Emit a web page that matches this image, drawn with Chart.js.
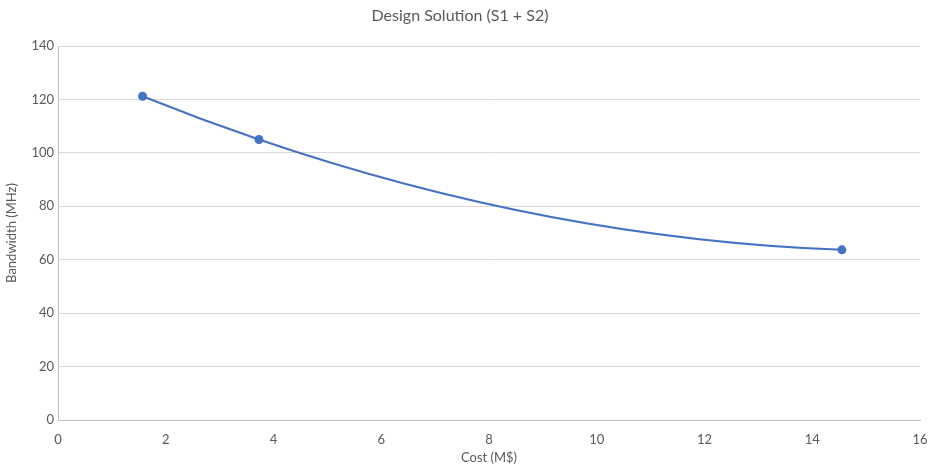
<!DOCTYPE html>
<html>
<head>
<meta charset="utf-8">
<script src="https://cdn.jsdelivr.net/npm/chart.js@4/dist/chart.umd.min.js"></script>
<style>
  html, body { margin: 0; padding: 0; background: #fff; }
  #wrap { width: 937px; height: 468px; }
</style>
</head>
<body>
<div id="wrap"><canvas id="c" width="937" height="468"></canvas></div>
<script>
// Design solution trade-off: cost vs bandwidth
const costMillions = [1.57, 3.73, 14.55];
const bandwidthMHz = [121.2, 105.0, 63.7];
const xTicks = [0, 2, 4, 6, 8, 10, 12, 14, 16];
const yTicks = [0, 20, 40, 60, 80, 100, 120, 140];

const points = costMillions.map((x, i) => ({ x: x, y: bandwidthMHz[i] }));
const fontFamily = "Lato, 'Open Sans', sans-serif";
const textColor = '#595959';

// Slope at point i of the quadratic through it and its nearest neighbours
function localSlope(xs, ys, i) {
  const n = xs.length;
  const s = Math.min(Math.max(i - 1, 0), n - 3);
  const [xa, xb, xc] = [xs[s], xs[s + 1], xs[s + 2]];
  const [ya, yb, yc] = [ys[s], ys[s + 1], ys[s + 2]];
  const x = xs[i];
  return ya * (2 * x - xb - xc) / ((xa - xb) * (xa - xc)) +
         yb * (2 * x - xa - xc) / ((xb - xa) * (xb - xc)) +
         yc * (2 * x - xa - xb) / ((xc - xa) * (xc - xb));
}

// Smooth the connecting line with Hermite control points built in data space
const smoothCurve = {
  id: 'smoothCurve',
  beforeDatasetDraw(chart, args) {
    const meta = args.meta;
    const line = meta.dataset;
    const els = meta.data;
    const n = costMillions.length;
    if (!line || els.length !== n || n < 3) return;
    line.updateControlPoints(chart.chartArea, meta.iScale.axis);
    const sx = meta.xScale, sy = meta.yScale;
    const m = costMillions.map((_, i) => localSlope(costMillions, bandwidthMHz, i));
    for (let i = 0; i < n - 1; i++) {
      const h = (costMillions[i + 1] - costMillions[i]) / 3;
      els[i].cp2x = sx.getPixelForValue(costMillions[i] + h);
      els[i].cp2y = sy.getPixelForValue(bandwidthMHz[i] + m[i] * h);
      els[i + 1].cp1x = sx.getPixelForValue(costMillions[i + 1] - h);
      els[i + 1].cp1y = sy.getPixelForValue(bandwidthMHz[i + 1] - m[i + 1] * h);
    }
  }
};

new Chart(document.getElementById('c'), {
  type: 'scatter',
  data: {
    datasets: [{
      data: points,
      showLine: true,
      borderColor: '#4472C4',
      backgroundColor: '#4472C4',
      borderWidth: 2,
      pointRadius: 3.5,
      pointHoverRadius: 3.5,
      tension: 0.4
    }]
  },
  plugins: [smoothCurve],
  options: {
    responsive: false,
    animation: false,
    layout: { padding: { left: 0, right: 17, top: 0, bottom: 0 } },
    plugins: {
      legend: { display: false },
      tooltip: { enabled: false },
      title: {
        display: true,
        text: 'Design Solution (S1 + S2)',
        color: textColor,
        font: { family: fontFamily, size: 16, weight: 'normal', lineHeight: 1.2 },
        padding: { top: 6, bottom: 20.8 }
      }
    },
    scales: {
      x: {
        type: 'linear',
        min: xTicks[0],
        max: xTicks[xTicks.length - 1],
        afterBuildTicks: s => { s.ticks = xTicks.map(v => ({ value: v })); },
        afterFit: s => { s.height = 48; },
        grid: { display: false },
        border: { display: true, color: '#bfbfbf', width: 1 },
        ticks: { color: textColor, padding: 4, font: { family: fontFamily, size: 13 } },
        title: {
          display: true,
          text: 'Cost (M$)',
          color: textColor,
          font: { family: fontFamily, size: 13 },
          padding: { top: 0, bottom: 2 }
        }
      },
      y: {
        type: 'linear',
        min: yTicks[0],
        max: yTicks[yTicks.length - 1],
        afterBuildTicks: s => { s.ticks = yTicks.map(v => ({ value: v })); },
        afterFit: s => { s.width = 58; },
        grid: { color: '#d9d9d9', drawTicks: false, lineWidth: 1 },
        border: { display: true, color: '#bfbfbf', width: 1 },
        ticks: { color: textColor, padding: 4, font: { family: fontFamily, size: 13 } },
        title: {
          display: true,
          text: 'Bandwidth (MHz)',
          color: textColor,
          font: { family: fontFamily, size: 13 },
          padding: { top: 4, bottom: 0 }
        }
      }
    }
  }
});
</script>
</body>
</html>
